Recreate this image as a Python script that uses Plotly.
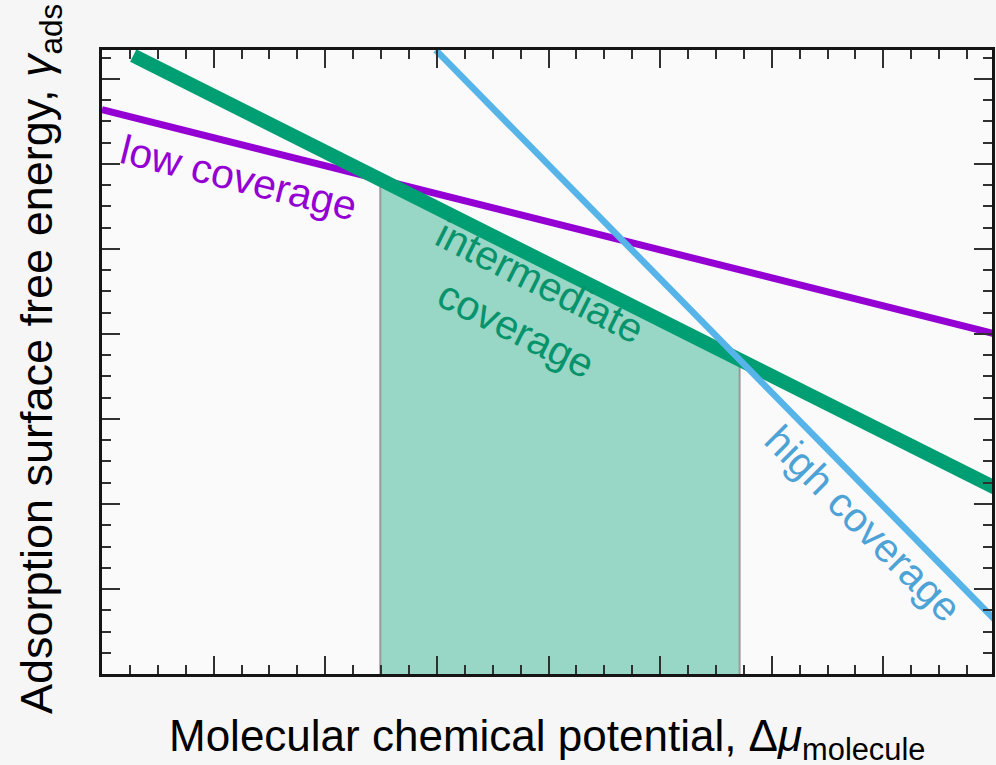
import numpy as np
import plotly.graph_objects as go

# Free-energy lines gamma_ads(mu), given by their end points (arbitrary units)
mu_low = [0.0, 8.0]
gamma_low = [6.64, 4.00]

mu_int = [0.28, 8.0]
gamma_int = [7.275, 2.19]

mu_high = [2.99, 8.0]
gamma_high = [7.34, 0.635]

labels = ["low coverage", "intermediate<br>coverage", "high coverage"]

PURPLE = "#9400D3"
GREEN = "#009E73"
BLUE = "#56B4E9"
FONT = "Liberation Sans, Arial, sans-serif"


def coeffs(mu, g):
    m = (g[1] - g[0]) / (mu[1] - mu[0])
    return m, g[0] - m * mu[0]


def crossing(a, b):
    (m1, c1), (m2, c2) = a, b
    return (c2 - c1) / (m1 - m2)


L = coeffs(mu_low, gamma_low)
I = coeffs(mu_int, gamma_int)
H = coeffs(mu_high, gamma_high)

# stability window of the intermediate-coverage phase
x_a = crossing(L, I)
x_b = crossing(I, H)
g_a = I[0] * x_a + I[1]
g_b = I[0] * x_b + I[1]

fig = go.Figure()

fig.add_trace(go.Scatter(
    x=[x_a, x_a, x_b, x_b, x_a], y=[0, g_a, g_b, 0, 0],
    mode="lines", fill="toself", fillcolor="#98d6c5",
    line=dict(width=0), hoverinfo="skip", showlegend=False))

for xv, gv in [(x_a, g_a), (x_b, g_b)]:
    fig.add_trace(go.Scatter(
        x=[xv, xv], y=[0, gv], mode="lines",
        line=dict(color="#9a9a9a", width=2), showlegend=False))

fig.add_trace(go.Scatter(x=mu_low, y=gamma_low, mode="lines",
                         line=dict(color=PURPLE, width=7), showlegend=False))
fig.add_trace(go.Scatter(x=mu_int, y=gamma_int, mode="lines",
                         line=dict(color=GREEN, width=14), showlegend=False))
fig.add_trace(go.Scatter(x=mu_high, y=gamma_high, mode="lines",
                         line=dict(color=BLUE, width=6.5), showlegend=False))

label_specs = [
    (labels[0], 1.23, 5.84, 14, PURPLE),
    (labels[1], 3.82, 4.33, 26.6, "#07936b"),
    (labels[2], 6.82, 1.76, 45, "#4da2d6"),
]
for text, x, y, ang, col in label_specs:
    fig.add_annotation(x=x, y=y, xref="x", yref="y", text=text,
                       textangle=ang, showarrow=False,
                       font=dict(family=FONT, size=41, color=col))

# axis titles
fig.add_annotation(x=0.5, y=-0.104, xref="paper", yref="paper",
                   text="Molecular chemical potential, Δ<i>μ</i><sub>molecule</sub>",
                   showarrow=False, xanchor="center", yanchor="middle",
                   font=dict(family=FONT, size=44, color="black"))
fig.add_annotation(x=-0.0694, y=0.505, xref="paper", yref="paper",
                   text="Adsorption surface free energy, <i>γ</i><sub>ads</sub>",
                   textangle=-90, showarrow=False, xanchor="center", yanchor="middle",
                   font=dict(family=FONT, size=45, color="black"))

axis_common = dict(
    showticklabels=False, showgrid=False, zeroline=False,
    showline=True, linewidth=3, linecolor="#151515", mirror="ticks",
    ticks="inside", ticklen=18, tickwidth=2, tickcolor="#303030", dtick=1,
    minor=dict(ticks="inside", ticklen=9, tickwidth=2, tickcolor="#303030",
               dtick=0.25, showgrid=False),
)
fig.update_xaxes(range=[0, 7.973], tick0=0, **axis_common)
fig.update_yaxes(range=[0, 7.341], tick0=0, **axis_common)

fig.update_layout(
    width=996, height=765,
    margin=dict(l=102, r=1, t=50, b=91),
    paper_bgcolor="#f6f6f6", plot_bgcolor="#fafafa",
    showlegend=False,
)

fig.write_html("out.html")
